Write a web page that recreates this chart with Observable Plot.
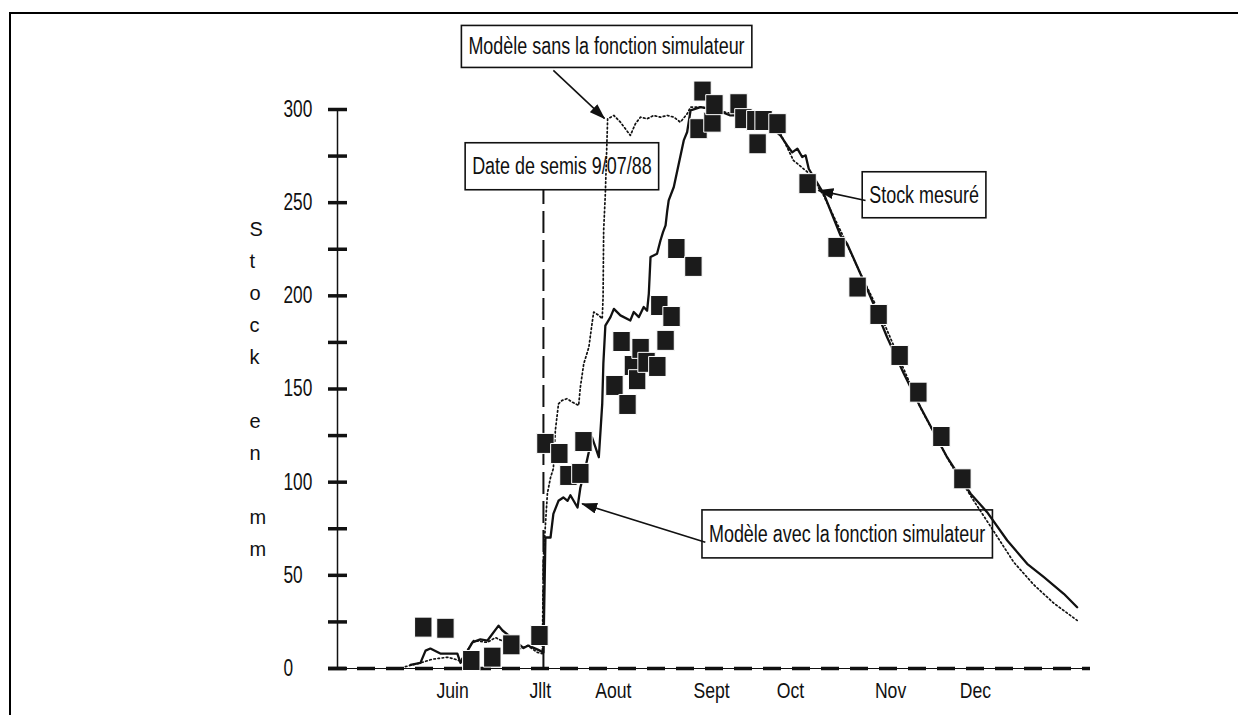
<!DOCTYPE html>
<html>
<head>
<meta charset="utf-8">
<script src="https://cdn.jsdelivr.net/npm/d3@7"></script>
<script src="https://cdn.jsdelivr.net/npm/@observablehq/plot@0.6"></script>
<style>
  body { margin: 0; background: #fff; }
  #wrap { position: relative; width: 1245px; height: 715px; overflow: hidden; }
  #frame { position: absolute; left: 9px; top: 12px; width: 1227px; height: 710px;
           border-left: 2px solid #000; border-top: 2px solid #000; pointer-events: none; }
</style>
</head>
<body>
<div id="wrap"><div id="frame"></div></div>
<script>
// ---------------- data ----------------
const yAxisTitle = "Stock en mm";
const monthLabels = ["Juin", "Jllt", "Aout", "Sept", "Oct", "Nov", "Dec"];
const monthDays   = [159.0, 189.9, 215.6, 250.2, 278.0, 313.2, 343.1];   // day of year 1988
const yTickValues  = [0, 25, 50, 75, 100, 125, 150, 175, 200, 225, 250, 275, 300];
const yLabelValues = [0, 50, 100, 150, 200, 250, 300];
const sowingDay = 191; // 9/07/88

// measured stock (squares)
const measuredDay = [148.7, 156.5, 165.6, 173.0, 179.7, 189.6,
  191.7, 196.6, 199.8, 204.0, 205.1,
  216.0, 218.5, 220.6, 222.5, 224.0, 225.2, 227.3, 231.1, 231.8, 234.0, 236.1, 237.8, 243.8,
  245.6, 247.0, 250.5, 251.2, 259.7, 261.4, 265.6, 266.4, 268.5, 273.4,
  284.0, 294.2, 301.6, 309.0, 316.4, 323.0, 331.1, 338.5];
const measuredStock = [22.2, 21.6, 4.3, 6.1, 12.7, 17.7,
  120.8, 115.4, 103.6, 104.7, 121.8,
  151.9, 175.5, 141.7, 162.6, 155.0, 171.8, 164.3, 162.1, 194.8, 176.1, 188.9, 225.4, 215.8,
  289.7, 309.9, 293.2, 302.6, 303.1, 295.1, 294.1, 281.6, 294.1, 292.4,
  260.2, 226.0, 204.7, 190.0, 168.0, 148.3, 124.5, 101.8];

// model with the simulator function (solid line)
const withSimDay = [144.2, 147.7, 149.5, 151.2, 154.7, 160.7, 161.8, 166.0, 168.8, 171.3,
  175.2, 176.6, 179.4, 184.0, 185.7, 189.2, 191.0, 191.7, 193.5, 194.5,
  196.3, 198.0, 199.5, 200.5, 203.0, 204.0, 205.8, 208.1, 209.3, 210.5,
  211.1, 211.7, 212.1, 212.8, 214.6, 215.8, 218.1, 221.6, 222.8, 224.6,
  226.3, 227.5, 228.1, 228.7, 231.0, 232.2, 233.1, 234.0, 234.6, 235.1,
  236.9, 240.4, 241.6, 242.8, 246.3, 251.6, 256.8, 262.1, 269.2, 274.5,
  276.8, 278.6, 280.4, 282.1, 283.3, 284.4, 289.7, 295.6, 297.9, 302.6,
  306.7, 312.0, 317.9, 323.7, 333.1, 341.4, 347.2, 354.3, 361.3, 367.2,
  374.2, 378.9];
const withSimStock = [2, 3, 9.6, 10.7, 8, 8, 3, 14, 15.6, 15,
  23, 20.4, 17, 11, 12.3, 10, 8.6, 70.3, 70.3, 83,
  90, 91.8, 90, 93, 86.4, 97, 108, 124, 118.8, 113.4,
  127.7, 142, 163.7, 184, 188.6, 193, 189.5, 186.8, 191.3, 188.6,
  194, 192, 201, 220.8, 222.6, 229.7, 234.2, 237.8, 245.8, 251.2,
  258.4, 283.4, 287.9, 299.5, 301.3, 300, 296.8, 297, 293, 286,
  280.7, 277, 279, 274.5, 275.4, 268.2, 254.8, 232.4, 228, 211.9,
  197.5, 177.8, 158.2, 140.3, 113.4, 93.8, 83.9, 68.7, 56.2, 49,
  40.1, 32.9];

// model without the simulator function (dotted line)
const withoutSimDay = [142.4, 147.7, 151.9, 154.0, 157.2, 159.0, 161.8, 166.4, 171.3, 174.1,
  177.6, 182.9, 185.4, 188.9, 190.6, 191.0, 192.4, 193.5, 194.5, 195.2,
  196.3, 197.6, 199.3, 201.1, 203.4, 204.0, 205.2, 207.0, 208.1, 208.7,
  210.5, 211.7, 212.0, 212.2, 212.8, 213.6, 215.8, 218.1, 221.6, 223.4,
  225.2, 227.5, 229.8, 232.2, 234.6, 236.9, 239.2, 241.6, 242.8, 246.3,
  256.8, 267.4, 274.5, 279.0, 284.3, 289.6, 295.6, 302.6, 309.6, 323.7,
  334.3, 342.5, 349.6, 356.6, 363.6, 370.7, 378.9];
const withoutSimStock = [1, 3, 5, 5.4, 6, 5.4, 4, 15, 14, 16.6,
  14, 10.7, 12.3, 8.6, 8, 60, 94, 102.5, 107.4, 127.8,
  142, 143.9, 144.8, 143, 141.2, 151, 163.6, 172.5, 185, 191.3,
  189.5, 187.7, 199.3, 235, 255, 295, 296.8, 293.2, 286.1, 292.4,
  295.9, 295, 296.8, 295.9, 296.8, 295.9, 293.2, 297.7, 301.3, 301.3,
  298, 296, 287, 272.7, 266, 254, 235, 212, 190, 140,
  110, 90, 73.5, 57, 45, 35, 25.8];

const annotationTexts = ["Modèle sans la fonction simulateur", "Date de semis 9/07/88",
                         "Stock mesuré", "Modèle avec la fonction simulateur"];

// ---------------- build tables ----------------
const measured = measuredDay.map((d, i) => ({day: d, stock: measuredStock[i]}));
const withSim = withSimDay.map((d, i) => ({day: d, stock: withSimStock[i]}));
const withoutSim = withoutSimDay.map((d, i) => ({day: d, stock: withoutSimStock[i]}));

// annotation layout (data coordinates)
const annotations = [
  {text: annotationTexts[0], day: 213.2, stock: 333.5, boxH: 42},
  {text: annotationTexts[1], day: 197.5, stock: 269.2, boxH: 47},
  {text: annotationTexts[2], day: 325.0, stock: 253.9, boxH: 46},
  {text: annotationTexts[3], day: 297.9, stock: 71.9,  boxH: 48}
];
const arrows = [
  {x1: 194.5, y1: 321.0, x2: 212.5, y2: 295.2},
  {x1: 304.4, y1: 251.2, x2: 287.8, y2: 256.6},
  {x1: 248.0, y1: 67.8,  x2: 204.6, y2: 88.4}
];

const FONT = '"Liberation Sans", Arial, sans-serif';
const INK = "#111";

const rectSymbol = {
  draw(context, size) {
    const r = Math.sqrt(size / Math.PI);
    const hw = r * 0.87, hh = r;
    context.moveTo(-hw, -hh);
    context.lineTo(hw, -hh);
    context.lineTo(hw, hh);
    context.lineTo(-hw, hh);
    context.closePath();
  }
};

const xDomain = [118.5, 383.6];

const chart = Plot.plot({
  width: 1245,
  height: 715,
  marginLeft: 337,
  marginRight: 155,
  marginTop: 109,
  marginBottom: 47,
  style: {fontFamily: FONT, fontSize: "21px", color: INK, background: "transparent", overflow: "visible"},
  x: {domain: xDomain, axis: null},
  y: {domain: [0, 300]},
  marks: [
    // baseline (thin continuous + thick dashes)
    Plot.ruleY([0], {stroke: INK, strokeWidth: 1, insetLeft: -9}),
    Plot.ruleY([0], {stroke: INK, strokeWidth: 3.5, strokeDasharray: "18,11", insetLeft: -9}),
    // y axis line
    Plot.ruleX([xDomain[0]], {y1: 0, y2: 300, stroke: INK, strokeWidth: 1.5}),
    // y ticks crossing the axis
    Plot.axisY(yTickValues, {tickSize: 19, dx: 10, tickFormat: () => "", strokeWidth: 3.5, stroke: INK, label: null}),
    // y tick labels
    Plot.text(yLabelValues, {y: d => d, text: d => `${d}`, frameAnchor: "left", dx: -54,
      textAnchor: "start", fontSize: 23, fill: INK, ariaDescription: "ylabels"}),
    // y title, stacked letters
    Plot.text([yAxisTitle], {text: d => d.split("").join("\n"), frameAnchor: "left", dx: -88, dy: -3,
      lineHeight: 1.6, fontSize: 20, fill: INK}),
    // month labels
    Plot.text(monthLabels, {x: (d, i) => monthDays[i], text: d => d, frameAnchor: "bottom", dy: 29,
      fontSize: 22, fill: INK, ariaDescription: "months"}),
    // sowing date
    Plot.ruleX([sowingDay], {y1: 0, y2: 257, stroke: INK, strokeWidth: 2, strokeDasharray: "22,7"}),
    // models
    Plot.line(withoutSim, {x: "day", y: "stock", stroke: INK, strokeWidth: 1.7, strokeDasharray: "1.6,2.6"}),
    Plot.line(withSim, {x: "day", y: "stock", stroke: INK, strokeWidth: 2.3}),
    // measured stock
    Plot.dot(measured, {x: "day", y: "stock", symbol: rectSymbol, r: 10, fill: "#1b1b1b", stroke: "#fff", strokeWidth: 1}),
    // arrows
    Plot.link(arrows, {x1: "x1", y1: "y1", x2: "x2", y2: "y2", stroke: INK, strokeWidth: 1.6, ariaDescription: "arrows"}),
    // annotation texts
    Plot.text(annotations, {x: "day", y: "stock", text: "text", fontSize: 23, fill: INK, ariaDescription: "annotations"})
  ]
});

document.getElementById("wrap").insertBefore(chart, document.getElementById("frame"));

// post-processing: condensed lettering, boxes around annotations, filled arrowheads
const ns = "http://www.w3.org/2000/svg";
const svg = chart.tagName.toLowerCase() === "svg" ? chart : chart.querySelector("svg");

function squeeze(selector, factor) {
  svg.querySelectorAll(selector).forEach(t => {
    const w = t.getComputedTextLength();
    t.setAttribute("textLength", (w * factor).toFixed(1));
    t.setAttribute("lengthAdjust", "spacingAndGlyphs");
  });
}
squeeze('g[aria-description="ylabels"] text', 0.75);
squeeze('g[aria-description="months"] text', 0.8);
squeeze('g[aria-description="annotations"] text', 0.78);

const defs = document.createElementNS(ns, "defs");
const marker = document.createElementNS(ns, "marker");
marker.setAttribute("id", "ahead");
marker.setAttribute("viewBox", "0 0 16 11");
marker.setAttribute("refX", "15");
marker.setAttribute("refY", "5.5");
marker.setAttribute("markerWidth", "16");
marker.setAttribute("markerHeight", "11");
marker.setAttribute("markerUnits", "userSpaceOnUse");
marker.setAttribute("orient", "auto");
const mp = document.createElementNS(ns, "path");
mp.setAttribute("d", "M0,0L16,5.5L0,11Z");
mp.setAttribute("fill", INK);
marker.appendChild(mp);
defs.appendChild(marker);
svg.insertBefore(defs, svg.firstChild);
svg.querySelectorAll('g[aria-description="arrows"] path').forEach(p => p.setAttribute("marker-end", "url(#ahead)"));

svg.querySelectorAll('g[aria-description="annotations"] text').forEach((t, i) => {
  const b = t.getBBox();
  const h = annotations[i].boxH;
  const r = document.createElementNS(ns, "rect");
  r.setAttribute("x", b.x - 7);
  r.setAttribute("y", b.y + b.height / 2 - h / 2);
  r.setAttribute("width", b.width + 14);
  r.setAttribute("height", h);
  r.setAttribute("fill", "none");
  r.setAttribute("stroke", INK);
  r.setAttribute("stroke-width", "1.6");
  if (t.getAttribute("transform")) r.setAttribute("transform", t.getAttribute("transform"));
  t.parentNode.insertBefore(r, t);
});
</script>
</body>
</html>
